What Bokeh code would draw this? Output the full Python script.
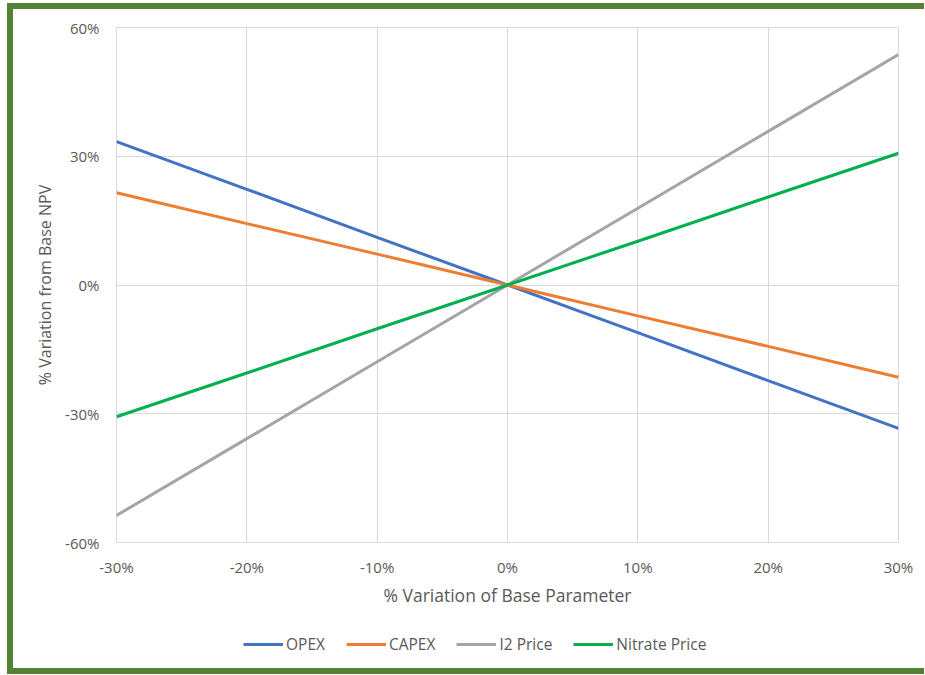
from bokeh.plotting import figure
from bokeh.layouts import column
from bokeh.models import Legend, LegendItem, FixedTicker, NumeralTickFormatter, Range1d
from bokeh.embed import file_html
from bokeh.resources import INLINE

variation = [-0.30, -0.20, -0.10, 0.0, 0.10, 0.20, 0.30]
opex = [0.334, 0.223, 0.111, 0.0, -0.111, -0.223, -0.334]
capex = [0.215, 0.143, 0.072, 0.0, -0.072, -0.143, -0.215]
i2_price = [-0.537, -0.358, -0.179, 0.0, 0.179, 0.358, 0.537]
nitrate_price = [-0.307, -0.205, -0.102, 0.0, 0.102, 0.205, 0.307]
series_names = ["OPEX", "CAPEX", "I2 Price", "Nitrate Price"]
series_colors = ["#4472C4", "#ED7D31", "#A5A5A5", "#00B050"]
x_ticks = [-0.3, -0.2, -0.1, 0.0, 0.1, 0.2, 0.3]
y_ticks = [-0.6, -0.3, 0.0, 0.3, 0.6]

FONT = "Open Sans"
TXT = "#595959"

p = figure(width=911, height=606, output_backend="svg", toolbar_location=None,
           x_range=Range1d(-0.3, 0.3), y_range=Range1d(-0.6, 0.6),
           min_border_left=103, min_border_right=26, min_border_top=18, min_border_bottom=73)
p.background_fill_color = "white"
p.border_fill_color = "white"
p.outline_line_color = "#D9D9D9"

for ax in (p.xaxis[0], p.yaxis[0]):
    ax.axis_line_color = None
    ax.major_tick_line_color = None
    ax.minor_tick_line_color = None
    ax.major_label_text_font = FONT
    ax.major_label_text_font_size = "15px"
    ax.major_label_text_color = TXT
    ax.axis_label_text_font = FONT
    ax.axis_label_text_font_style = "normal"
    ax.axis_label_text_color = TXT
    ax.formatter = NumeralTickFormatter(format="0%")

p.xaxis.ticker = FixedTicker(ticks=x_ticks)
p.yaxis.ticker = FixedTicker(ticks=y_ticks)
p.xaxis.axis_label = "% Variation of Base Parameter"
p.yaxis.axis_label = "% Variation from Base NPV"
p.xaxis.axis_label_text_font_size = "17.5px"
p.yaxis.axis_label_text_font_size = "16px"
p.xaxis.major_label_standoff = 8
p.yaxis.major_label_standoff = 11
p.xaxis.axis_label_standoff = 3
p.yaxis.axis_label_standoff = 6

p.xgrid.ticker = FixedTicker(ticks=x_ticks)
p.ygrid.ticker = FixedTicker(ticks=y_ticks)
p.grid.grid_line_color = "#D9D9D9"
p.grid.grid_line_width = 1

all_series = [opex, capex, i2_price, nitrate_price]
for name, color, ys in zip(series_names, series_colors, all_series):
    p.line(variation, ys, line_color=color, line_width=3)

# legend strip below the chart (its lines lie outside its own view; only the legend shows)
lg = figure(width=911, height=53, output_backend="svg", toolbar_location=None,
            x_axis_type=None, y_axis_type=None, min_border=0,
            x_range=Range1d(5, 6), y_range=Range1d(5, 6))
lg.outline_line_color = None
lg.grid.visible = False
lg.background_fill_color = "white"
lg.border_fill_color = "white"
items = []
for name, color, ys in zip(series_names, series_colors, all_series):
    r = lg.line(variation, ys, line_color=color, line_width=3)
    items.append(LegendItem(label=name, renderers=[r]))
legend = Legend(items=items, orientation="horizontal", location=(127, 13),
                glyph_width=40, glyph_height=20, label_height=20, label_standoff=3, spacing=21,
                padding=0, margin=0, border_line_color=None, background_fill_alpha=0,
                label_text_font=FONT, label_text_font_size="15.5px", label_text_color=TXT)
lg.add_layout(legend, "center")

layout = column(p, lg, spacing=0)
layout.styles = {"border-left": "6px solid #548235", "border-top": "6px solid #548235",
                 "border-bottom": "6px solid #548235", "border-right": "none",
                 "margin-left": "7px", "margin-top": "3px"}

open("out.html", "w").write(file_html(layout, INLINE))
